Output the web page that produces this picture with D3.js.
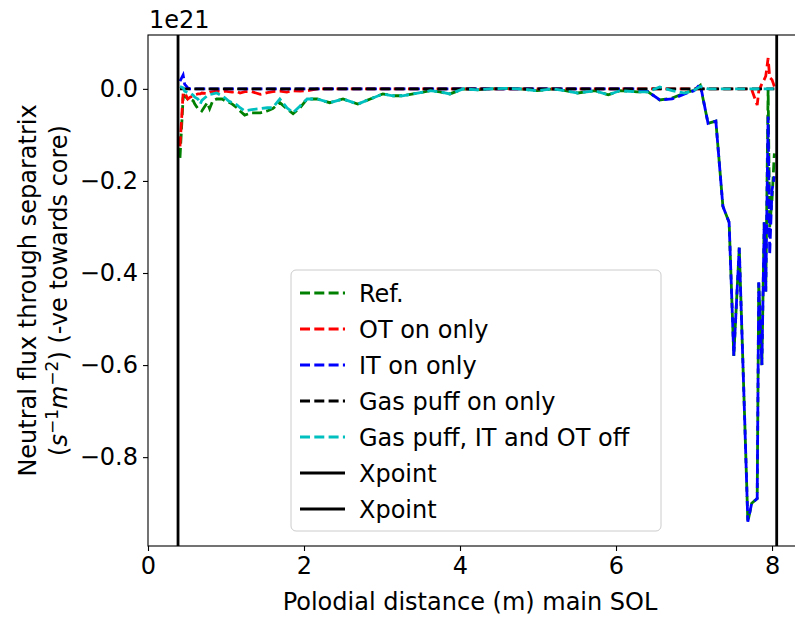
<!DOCTYPE html>
<html>
<head>
<meta charset="utf-8">
<script src="https://cdn.jsdelivr.net/npm/d3@7"></script>
<style>
    body { margin: 0; background: #fff; }
    svg { font-family: "DejaVu Sans", sans-serif; }
</style>
</head>
<body>
<div id="chart"></div>
<script>
// poloidal distance along the main SOL (m)
const distance = [
    0.41, 0.45, 0.47, 0.51, 0.54, 0.58, 0.60, 0.64, 0.67, 0.69,
    0.76, 0.79, 0.83, 0.88, 0.95, 0.99, 1.03, 1.08, 1.14, 1.18,
    1.24, 1.33, 1.44, 1.53, 1.60, 1.69, 1.78, 1.86, 1.95, 2.04,
    2.17, 2.33, 2.50, 2.69, 2.85, 3.01, 3.14, 3.26, 3.40, 3.62,
    3.74, 3.87, 4.04, 4.22, 4.38, 4.58, 4.77, 4.99, 5.19, 5.35,
    5.51, 5.73, 5.90, 6.05, 6.27, 6.41, 6.56, 6.72, 6.88, 7.00,
    7.08, 7.18, 7.28, 7.37, 7.45, 7.51, 7.58, 7.65, 7.69, 7.74,
    7.81, 7.83, 7.87, 7.90, 7.92, 7.95, 7.97, 8.00, 8.03
];

// neutral flux (x 1e21 s^-1 m^-2)
const refFlux = [
    -0.150, -0.020, -0.015, -0.022, -0.022, -0.026, -0.033, -0.043, -0.045, -0.048,
    -0.030, -0.043, -0.026, -0.022, -0.022, -0.026, -0.028, -0.033, -0.041, -0.048,
    -0.057, -0.052, -0.052, -0.048, -0.043, -0.030, -0.043, -0.054, -0.041, -0.022,
    -0.022, -0.030, -0.022, -0.033, -0.022, -0.011, -0.015, -0.015, -0.011, -0.004,
    -0.0065, -0.011, 0.000, -0.002, 0.000, 0.001, 0.000, -0.004, 0.000, -0.004,
    -0.009, -0.004, -0.013, -0.004, -0.0065, -0.0065, -0.024, -0.020, -0.009, -0.003,
    0.008, -0.075, -0.070, -0.255, -0.290, -0.580, -0.345, -0.720, -0.940, -0.900,
    -0.890, -0.420, -0.600, -0.290, -0.440, 0.000, -0.300, -0.240, -0.140
];

const otFlux = [
    -0.125, -0.010, -0.008, -0.022, -0.018, -0.015, -0.013, -0.011, -0.011, -0.009,
    -0.010, -0.007, -0.006, -0.005, -0.006, -0.005, -0.006, -0.007, -0.006, -0.009,
    -0.006, -0.006, -0.012, -0.008, -0.006, -0.005, -0.007, -0.004, -0.005, -0.004,
    0, 0, 0, 0, 0, 0, 0, 0, 0, 0,
    0, 0, 0, 0, 0, 0, 0, 0, 0, 0,
    0, 0, 0, 0, 0, 0, 0, 0, 0, 0,
    0, 0, 0, 0, 0, 0, 0, 0, 0, -0.002,
    -0.035, -0.005, 0.011, 0.020, 0.028, 0.067, 0.025, 0.020, 0.005
];

const itFlux = [
    0.017, 0.030, 0.010, 0.002, 0, 0, 0, 0, 0, 0,
    0, 0, 0, 0, 0, 0, 0, 0, 0, 0,
    0, 0, 0, 0, 0, 0, 0, 0, 0, 0,
    0, 0, 0, 0, 0, 0, 0, 0, 0, 0,
    0, 0, 0, 0, 0, 0, 0, 0, 0, 0,
    0, 0, 0, 0, 0, -0.006, -0.024, -0.022, -0.011, -0.004,
    0.010, -0.075, -0.070, -0.255, -0.290, -0.580, -0.345, -0.720, -0.940, -0.900,
    -0.890, -0.420, -0.600, -0.290, -0.440, -0.060, -0.360, -0.220, -0.190
];

const gasPuffFlux = [
    0, 0, 0, 0, 0, 0, 0, 0, 0, 0,
    0, 0, 0, 0, 0, 0, 0, 0, 0, 0,
    0, 0, 0, 0, 0, 0, 0, 0, 0, 0,
    0, 0, 0, 0, 0, 0, 0, 0, 0, 0,
    0, 0, 0, 0, 0, 0, 0, 0, 0, 0,
    0, 0, 0, 0, 0, 0, 0, 0, 0, 0,
    0, 0, 0, 0, 0, 0, 0, 0, 0, 0,
    0, 0, 0, 0, 0, 0, 0, 0, 0
];

const allOffFlux = [
    0.005, 0.002, -0.005, -0.008, -0.009, -0.014, -0.018, -0.022, -0.033, -0.025,
    -0.015, -0.012, -0.011, -0.009, -0.015, -0.020, -0.026, -0.030, -0.035, -0.041,
    -0.048, -0.045, -0.043, -0.041, -0.041, -0.022, -0.041, -0.052, -0.037, -0.022,
    -0.022, -0.030, -0.022, -0.033, -0.022, -0.011, -0.015, -0.015, -0.011, -0.004,
    -0.0065, -0.011, 0.000, -0.002, 0.000, 0.001, 0.000, -0.004, 0.000, -0.004,
    -0.009, -0.004, -0.013, -0.004, -0.0065, -0.0065, 0.004, -0.004, -0.009, -0.003,
    0.005, 0, 0, 0, 0, 0, 0, 0, 0, 0,
    0, 0, 0, 0, 0, 0, 0, 0, 0
];

const seriesNames = ['Ref.', 'OT on only', 'IT on only', 'Gas puff on only', 'Gas puff, IT and OT off'];
const seriesColors = ['#008000', '#ff0000', '#0000ff', '#000000', '#00bfbf'];
const seriesValues = [refFlux, otFlux, itFlux, gasPuffFlux, allOffFlux];

const xpointPositions = [0.385, 8.06];
const xTicks = [0, 2, 4, 6, 8];
const yTicks = [0, -0.2, -0.4, -0.6, -0.8];

const FluxChart = {
    init() {
        this.render();
    },

    render() {
        const width = 795;
        const height = 617;
        const plot = { left: 148, top: 35, right: 804, bottom: 546 };
        const fontSize = '24px';

        const svg = d3.select('#chart')
            .append('svg')
            .attr('width', width)
            .attr('height', height);

        const x = d3.scaleLinear().domain([0, 8.41]).range([plot.left, plot.right]);
        const y = d3.scaleLinear().domain([-0.993, 0.117]).range([plot.bottom, plot.top]);

        svg.append('clipPath')
            .attr('id', 'plot-clip')
            .append('rect')
            .attr('x', plot.left)
            .attr('y', plot.top)
            .attr('width', plot.right - plot.left)
            .attr('height', plot.bottom - plot.top);

        const lineWidth = 2.8;
        const dash = '10,4.3';

        const line = d3.line()
            .x(d => x(d[0]))
            .y(d => y(d[1]));

        const lines = svg.append('g').attr('clip-path', 'url(#plot-clip)');

        seriesValues.forEach((values, i) => {
            const points = distance.map((d, j) => [d, values[j]]);
            lines.append('path')
                .attr('d', line(points))
                .attr('fill', 'none')
                .attr('stroke', seriesColors[i])
                .attr('stroke-width', lineWidth)
                .attr('stroke-dasharray', dash);
        });

        xpointPositions.forEach(xp => {
            lines.append('line')
                .attr('x1', x(xp))
                .attr('x2', x(xp))
                .attr('y1', plot.top)
                .attr('y2', plot.bottom)
                .attr('stroke', '#000')
                .attr('stroke-width', lineWidth);
        });

        // axes
        const xAxis = svg.append('g')
            .attr('transform', `translate(0,${plot.bottom})`)
            .call(d3.axisBottom(x).tickValues(xTicks).tickFormat(d3.format('d')).tickSize(5).tickPadding(6));
        const yAxis = svg.append('g')
            .attr('transform', `translate(${plot.left},0)`)
            .call(d3.axisLeft(y).tickValues(yTicks).tickFormat(d3.format('.1f')).tickSize(5).tickPadding(5));

        [xAxis, yAxis].forEach(axis => {
            axis.select('.domain').remove();
            axis.selectAll('line').attr('stroke', '#000').attr('stroke-width', 1.1);
            axis.selectAll('text')
                .attr('fill', '#000')
                .style('font-size', fontSize)
                .style('font-family', '"DejaVu Sans", sans-serif');
        });

        svg.append('rect')
            .attr('x', plot.left)
            .attr('y', plot.top)
            .attr('width', plot.right - plot.left)
            .attr('height', plot.bottom - plot.top)
            .attr('fill', 'none')
            .attr('stroke', '#000')
            .attr('stroke-width', 1.1);

        svg.append('text')
            .attr('x', plot.left + 1)
            .attr('y', 28)
            .style('font-size', fontSize)
            .text('1e21');

        svg.append('text')
            .attr('x', 470)
            .attr('y', 610)
            .attr('text-anchor', 'middle')
            .style('font-size', fontSize)
            .text('Polodial distance (m) main SOL');

        const yLabel = svg.append('g')
            .attr('transform', `translate(0,${(plot.top + plot.bottom) / 2}) rotate(-90)`)
            .style('font-size', fontSize)
            .attr('text-anchor', 'middle');

        yLabel.append('text')
            .attr('x', 0)
            .attr('y', 36)
            .text('Neutral flux through separatrix');

        const unitLine = yLabel.append('text')
            .attr('x', 0)
            .attr('y', 67);
        unitLine.append('tspan').text('(');
        unitLine.append('tspan').style('font-style', 'italic').text('s');
        unitLine.append('tspan').attr('dy', -9).style('font-size', '17px').text('−1');
        unitLine.append('tspan').attr('dy', 9).style('font-style', 'italic').text('m');
        unitLine.append('tspan').attr('dy', -9).style('font-size', '17px').text('−2');
        unitLine.append('tspan').attr('dy', 9).text(') (-ve towards core)');

        // legend
        const legend = svg.append('g');
        legend.append('rect')
            .attr('x', 291)
            .attr('y', 270)
            .attr('width', 370)
            .attr('height', 261)
            .attr('rx', 5)
            .attr('fill', '#fff')
            .attr('fill-opacity', 0.8)
            .attr('stroke', '#cccccc');

        const legendItems = seriesNames.map((name, i) => ({ name, color: seriesColors[i], dashed: true }))
            .concat(xpointPositions.map(() => ({ name: 'Xpoint', color: '#000', dashed: false })));

        legendItems.forEach((item, i) => {
            const cy = 293 + i * 36;
            legend.append('line')
                .attr('x1', 300)
                .attr('x2', 345)
                .attr('y1', cy)
                .attr('y2', cy)
                .attr('stroke', item.color)
                .attr('stroke-width', lineWidth)
                .attr('stroke-dasharray', item.dashed ? dash : null);
            legend.append('text')
                .attr('x', 359)
                .attr('y', cy + 9)
                .style('font-size', fontSize)
                .text(item.name);
        });
    }
};

document.addEventListener('DOMContentLoaded', () => {
    FluxChart.init();
});
</script>
</body>
</html>
